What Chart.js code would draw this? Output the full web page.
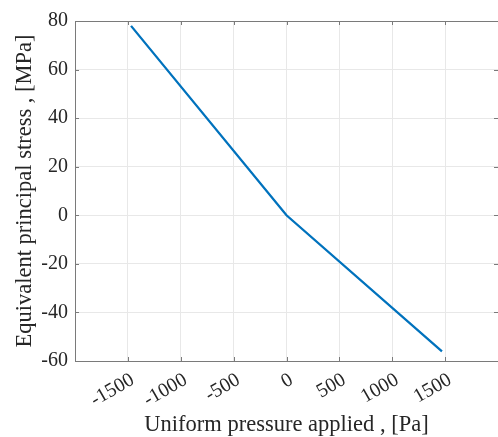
<!DOCTYPE html>
<html lang="en">
<head>
    <meta charset="UTF-8">
    <title>Equivalent principal stress</title>
    <script src="https://cdn.jsdelivr.net/npm/chart.js"></script>
    <style>
        html, body { margin: 0; padding: 0; background: #fff; }
        #wrap { width: 498px; height: 437px; }
    </style>
</head>
<body>
    <div id="wrap"><canvas id="stressChart"></canvas></div>
    <script>
        // Data
        const pressure = [-1470, 0, 1470];      // Pa
        const stress = [78, 0, -56];            // MPa
        const xTicks = [-1500, -1000, -500, 0, 500, 1000, 1500];
        const yTicks = [-60, -40, -20, 0, 20, 40, 60, 80];

        const serif = "'Liberation Serif', 'DejaVu Serif', serif";
        const textColor = '#262626';
        const axisColor = '#7a7a7a';

        // MATLAB style: box on, ticks pointing inward on all four sides
        const inwardTicks = {
            id: 'inwardTicks',
            afterDatasetsDraw(chart) {
                const {ctx, chartArea: a, scales: {x, y}} = chart;
                const len = 4;
                ctx.save();
                ctx.strokeStyle = axisColor;
                ctx.lineWidth = 1;
                ctx.beginPath();
                ctx.moveTo(a.left, a.top + 0.5);
                ctx.lineTo(a.right, a.top + 0.5);
                x.ticks.forEach(t => {
                    const px = Math.round(x.getPixelForValue(t.value)) + 0.5;
                    ctx.moveTo(px, a.bottom);
                    ctx.lineTo(px, a.bottom - len);
                    ctx.moveTo(px, a.top);
                    ctx.lineTo(px, a.top + len);
                });
                y.ticks.forEach(t => {
                    const py = Math.round(y.getPixelForValue(t.value)) + 0.5;
                    ctx.moveTo(a.left, py);
                    ctx.lineTo(a.left + len, py);
                    ctx.moveTo(a.right, py);
                    ctx.lineTo(a.right - len, py);
                });
                ctx.stroke();
                ctx.restore();
            }
        };

        const config = {
            type: 'line',
            data: {
                datasets: [{
                    data: pressure.map((p, i) => ({x: p, y: stress[i]})),
                    borderColor: '#0072BD',
                    borderWidth: 2.3,
                    pointRadius: 0,
                    tension: 0
                }]
            },
            options: {
                responsive: true,
                maintainAspectRatio: false,
                animation: false,
                layout: { padding: { top: 21, right: -1, left: 0, bottom: 0 } },
                plugins: {
                    legend: { display: false },
                    tooltip: { enabled: false }
                },
                scales: {
                    x: {
                        type: 'linear',
                        min: -2000,
                        max: 2000,
                        afterBuildTicks(scale) {
                            scale.ticks = xTicks.map(v => ({value: v}));
                        },
                        afterFit(scale) { scale.height = 76; },
                        grid: { color: '#e8e8e8', drawTicks: false },
                        border: { color: axisColor },
                        ticks: {
                            autoSkip: false,
                            minRotation: 30,
                            maxRotation: 30,
                            padding: 7,
                            labelOffset: 5,
                            color: textColor,
                            font: { family: serif, size: 20 },
                            callback: v => String(v)
                        },
                        title: {
                            display: true,
                            text: 'Uniform pressure applied , [Pa]',
                            color: textColor,
                            padding: { top: 0, bottom: -2 },
                            font: { family: serif, size: 22.5 }
                        }
                    },
                    y: {
                        type: 'linear',
                        min: -60,
                        max: 80,
                        afterBuildTicks(scale) {
                            scale.ticks = yTicks.map(v => ({value: v}));
                        },
                        afterFit(scale) { scale.width = 75; },
                        grid: { color: '#e8e8e8', drawTicks: false },
                        border: { color: axisColor },
                        ticks: {
                            padding: 7,
                            color: textColor,
                            font: { family: serif, size: 20 },
                            callback: v => String(v)
                        },
                        title: {
                            display: true,
                            text: 'Equivalent principal stress , [MPa]',
                            color: textColor,
                            padding: { top: 12, bottom: 0 },
                            font: { family: serif, size: 22.5 }
                        }
                    }
                }
            },
            plugins: [inwardTicks]
        };

        const myChart = new Chart(document.getElementById('stressChart'), config);
    </script>
</body>
</html>
